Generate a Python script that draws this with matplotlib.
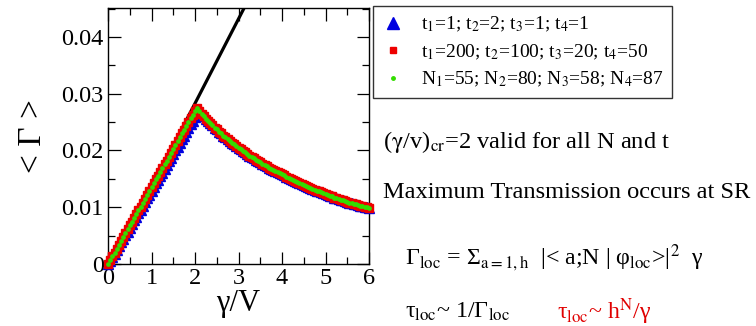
import matplotlib
matplotlib.use("Agg")
import matplotlib.pyplot as plt
from matplotlib.lines import Line2D
from matplotlib.ticker import FixedLocator, MultipleLocator

plt.rcParams['font.family'] = ['Liberation Serif', 'DejaVu Serif']
plt.rcParams['mathtext.fontset'] = 'stix'

# gamma/V grid shared by all three runs
gv = [round(0.05 * i, 2) for i in range(121)]

# <Gamma> for t1=200; t2=100; t3=20; t4=50 (and identical N-set run)
gamma_t200 = [
    0.0000, 0.0007, 0.0014, 0.0020, 0.0027, 0.0034, 0.0041, 0.0047, 0.0054, 0.0061,
    0.0068, 0.0074, 0.0081, 0.0088, 0.0095, 0.0101, 0.0108, 0.0115, 0.0122, 0.0128,
    0.0135, 0.0142, 0.0149, 0.0155, 0.0162, 0.0169, 0.0176, 0.0182, 0.0189, 0.0196,
    0.0203, 0.0209, 0.0216, 0.0223, 0.0230, 0.0236, 0.0243, 0.0250, 0.0257, 0.0263,
    0.0270, 0.0275, 0.0270, 0.0265, 0.0261, 0.0256, 0.0252, 0.0248, 0.0244, 0.0240,
    0.0237, 0.0233, 0.0230, 0.0226, 0.0223, 0.0220, 0.0217, 0.0214, 0.0211, 0.0208,
    0.0205, 0.0202, 0.0199, 0.0197, 0.0194, 0.0191, 0.0189, 0.0186, 0.0184, 0.0181,
    0.0179, 0.0177, 0.0175, 0.0172, 0.0170, 0.0168, 0.0166, 0.0164, 0.0162, 0.0160,
    0.0158, 0.0156, 0.0154, 0.0152, 0.0150, 0.0148, 0.0146, 0.0145, 0.0143, 0.0141,
    0.0139, 0.0138, 0.0136, 0.0134, 0.0132, 0.0131, 0.0129, 0.0128, 0.0126, 0.0125,
    0.0123, 0.0122, 0.0120, 0.0119, 0.0117, 0.0116, 0.0115, 0.0113, 0.0112, 0.0111,
    0.0110, 0.0108, 0.0107, 0.0106, 0.0105, 0.0104, 0.0103, 0.0102, 0.0101, 0.0100,
    0.0099,
]
gamma_N55 = list(gamma_t200)

# <Gamma> for t1=1; t2=2; t3=1; t4=1
gamma_t1 = [
    0.0000, 0.0005, 0.0012, 0.0018, 0.0025, 0.0031, 0.0038, 0.0044, 0.0051, 0.0057,
    0.0064, 0.0070, 0.0077, 0.0083, 0.0090, 0.0096, 0.0103, 0.0109, 0.0116, 0.0122,
    0.0129, 0.0135, 0.0142, 0.0148, 0.0155, 0.0161, 0.0168, 0.0174, 0.0181, 0.0187,
    0.0194, 0.0200, 0.0207, 0.0213, 0.0220, 0.0226, 0.0233, 0.0239, 0.0246, 0.0252,
    0.0259, 0.0268, 0.0271, 0.0266, 0.0261, 0.0256, 0.0252, 0.0248, 0.0244, 0.0240,
    0.0237, 0.0233, 0.0230, 0.0226, 0.0223, 0.0220, 0.0217, 0.0214, 0.0211, 0.0208,
    0.0205, 0.0202, 0.0199, 0.0197, 0.0194, 0.0191, 0.0189, 0.0186, 0.0184, 0.0181,
    0.0179, 0.0177, 0.0175, 0.0172, 0.0170, 0.0168, 0.0166, 0.0164, 0.0162, 0.0160,
    0.0158, 0.0156, 0.0154, 0.0152, 0.0150, 0.0148, 0.0146, 0.0145, 0.0143, 0.0141,
    0.0139, 0.0138, 0.0136, 0.0134, 0.0132, 0.0131, 0.0129, 0.0128, 0.0126, 0.0125,
    0.0123, 0.0122, 0.0120, 0.0119, 0.0117, 0.0116, 0.0115, 0.0113, 0.0112, 0.0111,
    0.0110, 0.0108, 0.0107, 0.0106, 0.0105, 0.0104, 0.0103, 0.0102, 0.0101, 0.0100,
    0.0099,
]

# linear small-gamma behaviour
line_x = [0.1, 3.25]
line_y = [0.0000, 0.0469]

labels = [r"t$_1$=1; t$_2$=2; t$_3$=1; t$_4$=1",
          r"t$_1$=200; t$_2$=100; t$_3$=20; t$_4$=50",
          r"N$_1$=55; N$_2$=80; N$_3$=58; N$_4$=87"]
yticks = [0, 0.01, 0.02, 0.03, 0.04]
ytick_labels = ["0", "0.01", "0.02", "0.03", "0.04"]
xticks = [0, 1, 2, 3, 4, 5, 6]

BLUE, RED, GREEN = '#0000e0', '#ee0000', '#33dd00'

fig = plt.figure(figsize=(7.56, 3.26), dpi=100)
ax = fig.add_axes([108/756, 62/326, 261/756, 256/326])

ax.plot(line_x, line_y, color='black', lw=2.3, zorder=2)
ax.plot(gv, gamma_t1, ls='none', marker='^', ms=6.5, color=BLUE,
        mec=BLUE, clip_on=False, zorder=3)
ax.plot(gv, gamma_t200, ls='none', marker='s', ms=5.3, color=RED,
        mec=RED, clip_on=False, zorder=4)
ax.plot(gv, gamma_N55, ls='none', marker='o', ms=2.4, color=GREEN,
        mec=GREEN, clip_on=False, zorder=5)

ax.set_xlim(0, 6)
ax.set_ylim(0, 0.0451)
ax.yaxis.set_major_locator(FixedLocator(yticks))
ax.set_yticklabels(ytick_labels)
ax.yaxis.set_minor_locator(MultipleLocator(0.005))
ax.xaxis.set_major_locator(FixedLocator(xticks))
ax.set_xticklabels([str(v) for v in xticks])
ax.xaxis.set_minor_locator(MultipleLocator(0.5))
ax.tick_params(which='both', direction='in', top=True, right=True,
               labelsize=17.5, width=0.9, pad=3)
ax.tick_params(which='major', length=9)
ax.tick_params(which='minor', length=5)
for s in ax.spines.values():
    s.set_linewidth(1.0)

ax.set_ylabel("< Γ >", fontsize=24, labelpad=10)
ax.set_xlabel("γ/V", fontsize=22, labelpad=0)

handles = [
    Line2D([], [], ls='none', marker='^', ms=9, color=BLUE),
    Line2D([], [], ls='none', marker='s', ms=5, color=RED),
    Line2D([], [], ls='none', marker='o', ms=2.5, color=GREEN),
]
leg = fig.legend(handles, labels, loc='upper left',
                 bbox_to_anchor=(373/756, 1 - 6/326), borderaxespad=0,
                 fancybox=False, edgecolor='#333333', framealpha=1,
                 fontsize=14, handlelength=1.2, handletextpad=0.8,
                 labelspacing=0.42, borderpad=0.45)
leg.get_frame().set_linewidth(1.0)

fig.text(383/756, 1 - 142/326, r"($\mathrm{\gamma}$/v)$_{\mathrm{cr}}$=2 valid for all N and t",
         fontsize=17.6, va='center', ha='left')
fig.text(383/756, 1 - 192/326, "Maximum Transmission occurs at SR",
         fontsize=17.6, va='center', ha='left')
fig.text(405/756, 1 - 258/326,
         r"Γ$_{\mathrm{loc}}$ = Σ$_{\mathrm{a=1,h}}$  |< a;N | φ$_{\mathrm{loc}}$>|$^{2}$  γ",
         fontsize=17.2, va='center', ha='left')
fig.text(405/756, 1 - 312/326, r"τ$_{\mathrm{loc}}$~ 1/Γ$_{\mathrm{loc}}$",
         fontsize=17.2, va='center', ha='left')
fig.text(557/756, 1 - 312/326, r"τ$_{\mathrm{loc}}$~ h$^{\mathrm{N}}$/γ",
         fontsize=17.2, va='center', ha='left', color='#e00000')

fig.savefig("out.png", dpi=100)
